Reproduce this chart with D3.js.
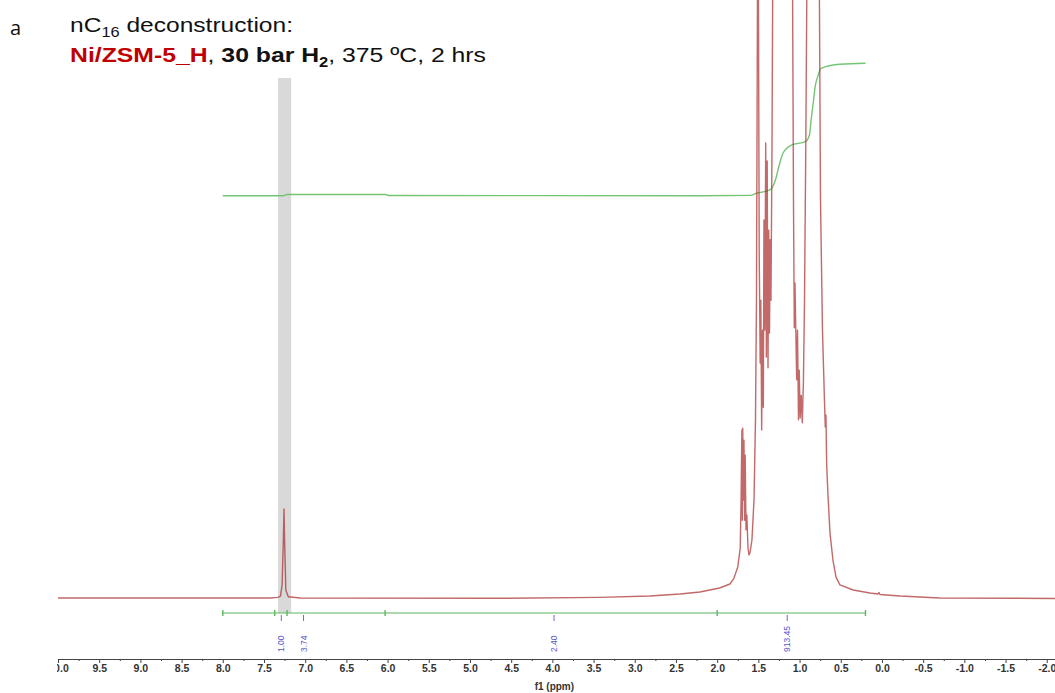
<!DOCTYPE html>
<html>
<head>
<meta charset="utf-8">
<script src="https://cdn.jsdelivr.net/npm/d3@7"></script>
<style>
  html, body { margin: 0; padding: 0; background: #fff; }
  svg { display: block; }
</style>
</head>
<body>
<svg id="chart" width="1055" height="693"></svg>
<script>
// ---------------- DATA ----------------
// 1H NMR spectrum: chemical shift (ppm) and relative intensity (% of plot height; >100 = off-scale)
const spectrumPpm = [
  10.00, 8.88, 7.43, 7.33, 7.30, 7.28, 7.265, 7.257, 7.25, 7.235, 7.205, 7.06,
  4.64, 3.42, 2.82, 2.45, 2.21, 1.97, 1.845, 1.80, 1.75, 1.72,
  1.71, 1.70, 1.695, 1.69, 1.68, 1.675, 1.667, 1.66, 1.65, 1.64, 1.626, 1.614, 1.60, 1.578, 1.553,
  1.535, 1.523, 1.51, 1.50, 1.49, 1.478, 1.47, 1.46, 1.45, 1.44, 1.432, 1.422, 1.411, 1.403,
  1.393, 1.383, 1.374, 1.365, 1.356, 1.347, 1.335, 1.325,
  1.30, 1.21, 1.14, 1.086,
  1.074, 1.064, 1.056, 1.035, 1.025, 1.013, 1.004, 0.993, 0.98, 0.967, 0.953, 0.94, 0.925, 0.91,
  0.874, 0.813, 0.761,
  0.746, 0.722, 0.698, 0.688, 0.68, 0.671, 0.655, 0.631, 0.595, 0.558, 0.51, 0.35, 0.146,
  0.05, 0.036, 0.024, -0.22, -0.70, -2.10
];
const spectrumIntensity = [
  0, 0, 0, 0.1, 0.3, 2.2, 9.7, 14.9, 9.7, 1.3, 0.2, 0,
  -0.05, 0.1, 0.33, 0.67, 1.0, 1.67, 2.34, 3.2, 5.2, 8.4,
  16.4, 28.1, 13, 28.4, 16.4, 26.4, 13, 23.9, 11.4, 13.9, 8.4, 7.2, 7.7, 9.7, 16.4,
  29.8, 49.8, 105, 105, 58, 39.3, 49.8, 28.1, 44.8, 31.9, 63.2, 44.8, 76.1, 40.3,
  73.1, 38.5, 61.5, 44.3, 59.9, 49.8, 74.9, 105,
  183, 350, 267, 105,
  66.6, 45.2, 52.7, 36.5, 44.8, 29.8, 38.1, 30.1, 33.9, 29.3, 36.5, 49.8, 74.9, 105,
  350, 234, 105,
  66.6, 44.8, 33.1, 28.6, 30.6, 22.2, 17.2, 10.9, 6.35, 3.5, 2.2, 1.34, 0.84,
  0.67, 0.92, 0.58, 0.33, 0, -0.08
];

// Integral trace: ppm and cumulative integral (relative units)
const integralPpm   = [8.00, 7.27, 7.22, 6.02, 5.99, 2.21, 1.60, 1.52, 1.36, 1.30, 1.24, 1.20, 1.10, 0.93, 0.88, 0.86, 0.83, 0.81, 0.78, 0.74, 0.51, 0.20];
const integralValue = [0,    0,    8,    8,    1,    0,    2,    17,   40,   97,   227,  297,  352,  375,  422,  526,  665,  760,  827,  885,  913,  920];

// Integration regions (edges, ppm) and integral labels
const regionEdges    = [8.00, 7.37, 7.22, 6.03, 2.00, 0.20];
const integralLabels = ["1.00", "3.74", "2.40", "913.45"];
const integralLabelPpm = [7.29, 7.02, 3.98, 1.15];

// Highlighted solvent band (CDCl3)
const solventBand = [7.33, 7.17];

// Axis ticks
const majorTicks = d3.range(-20, 101, 5).map(v => v / 10);
const minorTicks = d3.range(-20, 101, 5).map(v => v / 10 + 0.25).filter(v => v < 10);

// ---------------- LAYOUT ----------------
const svg = d3.select("#chart");
const W = 1055, H = 693;

const x = d3.scaleLinear().domain([10.0, -2.1]).range([58, 1055]);
const y = d3.scaleLinear().domain([0, 100]).range([598, 0]);
const yInt = d3.scaleLinear().domain([0, 920]).range([195.7, 63.3]);

const defs = svg.append("defs");
defs.append("clipPath").attr("id", "plotClip")
  .append("rect").attr("x", 57).attr("y", 0).attr("width", W - 57).attr("height", 640);
defs.append("clipPath").attr("id", "axisClip")
  .append("rect").attr("x", 57).attr("y", 640).attr("width", W - 57).attr("height", 53);

// solvent band
svg.append("rect")
  .attr("x", x(solventBand[0]))
  .attr("y", 78)
  .attr("width", x(solventBand[1]) - x(solventBand[0]))
  .attr("height", 613 - 78)
  .attr("fill", "#d9d9d9");

// integral curve
const intData = integralPpm.map((p, i) => [p, integralValue[i]]);
svg.append("path")
  .datum(intData)
  .attr("fill", "none")
  .attr("stroke", "#74c474")
  .attr("stroke-width", 1.4)
  .attr("d", d3.line().x(d => x(d[0])).y(d => yInt(d[1])).curve(d3.curveMonotoneX));

// spectrum
const specData = spectrumPpm.map((p, i) => [p, spectrumIntensity[i]]);
svg.append("g").attr("clip-path", "url(#plotClip)")
  .append("path")
  .datum(specData)
  .attr("fill", "none")
  .attr("stroke", "#a82a2a")
  .attr("stroke-opacity", 0.7)
  .attr("stroke-width", 1.4)
  .attr("stroke-linejoin", "round")
  .attr("d", d3.line().x(d => x(d[0])).y(d => y(d[1])));

// integration bar
const barY = 613;
svg.append("line")
  .attr("x1", x(regionEdges[0])).attr("x2", x(regionEdges[regionEdges.length - 1]))
  .attr("y1", barY).attr("y2", barY)
  .attr("stroke", "#5cb85c").attr("stroke-width", 1.2);
svg.selectAll(".edge").data(regionEdges).enter().append("line")
  .attr("x1", d => x(d)).attr("x2", d => x(d))
  .attr("y1", barY - 3).attr("y2", barY + 3)
  .attr("stroke", "#5cb85c").attr("stroke-width", 1.4);

// integral labels
const labG = svg.append("g");
integralLabels.forEach((t, i) => {
  const px = x(integralLabelPpm[i]);
  labG.append("line")
    .attr("x1", px).attr("x2", px).attr("y1", barY + 2).attr("y2", barY + 8)
    .attr("stroke", "#6a6ad6").attr("stroke-width", 1);
  labG.append("text")
    .attr("transform", `translate(${px + 3},652) rotate(-90)`)
    .attr("text-anchor", "start")
    .attr("font-family", "Liberation Sans, Arial, sans-serif")
    .attr("font-size", 8.5)
    .attr("fill", "#5656cc")
    .text(t);
});

// x axis
const axisY = 659;
const axG = svg.append("g").attr("clip-path", "url(#axisClip)");
const major = axG.append("g")
  .attr("transform", `translate(0,${axisY})`)
  .call(d3.axisBottom(x).tickValues(majorTicks).tickSize(4).tickPadding(2)
    .tickFormat(d => d.toFixed(1)));
major.select(".domain").attr("stroke", "#444").attr("stroke-width", 1);
major.selectAll(".tick line").attr("stroke", "#444");
major.selectAll("text")
  .attr("font-family", "Liberation Sans, Arial, sans-serif")
  .attr("font-size", 10.5)
  .attr("font-weight", "bold")
  .attr("fill", "#333");
const minor = axG.append("g")
  .attr("transform", `translate(0,${axisY})`)
  .call(d3.axisBottom(x).tickValues(minorTicks).tickSize(2).tickFormat(""));
minor.select(".domain").remove();
minor.selectAll(".tick line").attr("stroke", "#444");

svg.append("text")
  .attr("x", x(4.0) + 2).attr("y", 690)
  .attr("text-anchor", "middle")
  .attr("font-family", "Liberation Sans, Arial, sans-serif")
  .attr("font-size", 10)
  .attr("font-weight", "bold")
  .attr("fill", "#333")
  .text("f1 (ppm)");

// titles
svg.append("text")
  .attr("x", 10).attr("y", 35)
  .attr("font-family", "Open Sans, sans-serif")
  .attr("font-size", 20)
  .attr("fill", "#111")
  .text("a");

const t1 = svg.append("text")
  .attr("transform", "translate(70,32) scale(1.17,1)")
  .attr("font-family", "Liberation Sans, Arial, sans-serif")
  .attr("font-size", 21)
  .attr("fill", "#111");
t1.append("tspan").text("nC");
t1.append("tspan").attr("dy", 5).attr("font-size", 14).text("16");
t1.append("tspan").attr("dy", -5).text(" deconstruction:");

const t2 = svg.append("text")
  .attr("transform", "translate(70,62) scale(1.18,1)")
  .attr("font-family", "Liberation Sans, Arial, sans-serif")
  .attr("font-size", 21)
  .attr("fill", "#111");
t2.append("tspan").attr("font-weight", "bold").attr("fill", "#c00000").text("Ni/ZSM-5_H");
t2.append("tspan").text(", ");
t2.append("tspan").attr("font-weight", "bold").text("30 bar H");
t2.append("tspan").attr("font-weight", "bold").attr("dy", 5).attr("font-size", 14).text("2");
t2.append("tspan").attr("dy", -5).text(", 375 ºC, 2 hrs");
</script>
</body>
</html>
